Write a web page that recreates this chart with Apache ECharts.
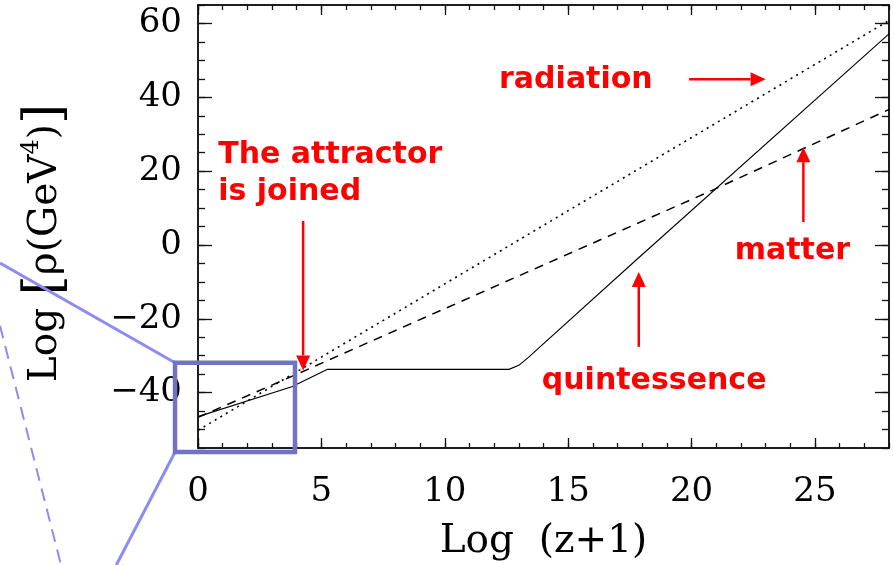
<!DOCTYPE html>
<html><head><meta charset="utf-8">
<script src="https://cdn.jsdelivr.net/npm/echarts@6/dist/echarts.min.js"></script>
<style>html,body{margin:0;padding:0;background:#fff}#c{width:894px;height:565px}</style>
</head><body><div id="c"></div>
<script>
// ---- data ----
const radiationX = [0, 11.5, 28];
const radiationY = [-50.2, -4.6, 60.8];
const matterX = [0, 3.8, 20.9, 28];
const matterY = [-46.7, -35.6, 15.0, 36.7];
const quintX = [0, 3.8, 5.25, 12.6, 13.0, 13.4, 17.8, 28];
const quintY = [-46.5, -38.4, -33.7, -33.7, -32.6, -30.4, -3.8, 57.2];

const xMajorTicks = [0, 5, 10, 15, 20, 25];
const xMinorTicks = [0,1,2,3,4,5,6,7,8,9,10,11,12,13,14,15,16,17,18,19,20,21,22,23,24,25,26,27,28];
const yMajorTicks = [-40, -20, 0, 20, 40, 60];
const yMinorTicks = [-55,-50,-45,-40,-35,-30,-25,-20,-15,-10,-5,0,5,10,15,20,25,30,35,40,45,50,55,60,65];

// annotations (data coordinates)
const labelTexts = ['radiation', 'The attractor', 'is joined', 'matter', 'quintessence'];
const labelX = [12.2, 0.82, 0.82, 21.75, 13.93];
const labelY = [44.5, 24.3, 14.3, -1.6, -37.0];
const arrowFromX = [19.9, 4.26, 24.53, 17.86];
const arrowFromY = [44.9, 6.5, 6.2, -27.6];
const arrowToX = [23.0, 4.26, 24.53, 17.86];
const arrowToY = [44.9, -34.0, 26.5, -7.3];
// zoom box (data coordinates of its corners)
const boxX = [-0.93, 3.93];
const boxY = [-31.9, -56.1];

const ink = '#111';
const serif = 'DejaVu Serif';
const chart = echarts.init(document.getElementById('c'), null, {renderer: 'canvas'});

function zip(a, b) { return a.map((v, i) => [v, b[i]]); }
function fmt(v) { return v < 0 ? '\u2212' + Math.abs(v) : String(v); }

function xAxis(pos, ticks, len, withLabel) {
  const a = {
    type: 'value', min: 0, max: 28, position: pos,
    axisLine: {show: true, onZero: false, lineStyle: {color: ink, width: 1.5}},
    axisTick: {show: true, inside: true, length: len, customValues: ticks, lineStyle: {color: ink, width: 1.3}},
    axisLabel: {show: withLabel, customValues: ticks, formatter: fmt, margin: 27,
      fontFamily: serif, fontSize: 34, color: '#000'},
    splitLine: {show: false}, minorTick: {show: false}
  };
  if (withLabel) {
    a.name = 'Log  (z+1)';
    a.nameLocation = 'middle';
    a.nameGap = 74;
    a.nameTextStyle = {fontFamily: serif, fontSize: 39, color: '#000'};
  }
  return a;
}
function yAxis(pos, ticks, len, withLabel) {
  return {
    type: 'value', min: -55, max: 65, position: pos,
    axisLine: {show: true, onZero: false, lineStyle: {color: ink, width: 1.5}},
    axisTick: {show: true, inside: true, length: len, customValues: ticks, lineStyle: {color: ink, width: 1.3}},
    axisLabel: {show: withLabel, customValues: ticks, formatter: fmt, margin: 16,
      fontFamily: serif, fontSize: 34, color: '#000'},
    splitLine: {show: false}, minorTick: {show: false}
  };
}

const option = {
  animation: false,
  backgroundColor: '#fff',
  grid: {left: 198, right: 5, top: 5, bottom: 117, containLabel: false, outerBoundsMode: 'none'},
  xAxis: [
    xAxis('bottom', xMajorTicks, 10, true),
    xAxis('bottom', xMinorTicks, 5, false),
    xAxis('top', xMajorTicks, 10, false),
    xAxis('top', xMinorTicks, 5, false)
  ],
  yAxis: [
    yAxis('left', yMajorTicks, 14, true),
    yAxis('left', yMinorTicks, 7, false),
    yAxis('right', yMajorTicks, 14, false),
    yAxis('right', yMinorTicks, 7, false)
  ],
  series: [
    {name: 'radiation', type: 'line', data: zip(radiationX, radiationY), symbol: 'none', silent: true,
      lineStyle: {color: '#000', width: 1.6, type: [2, 4.5]}},
    {name: 'matter', type: 'line', data: zip(matterX, matterY), symbol: 'none', silent: true,
      lineStyle: {color: '#000', width: 1.5, type: [9, 7]}},
    {name: 'quintessence', type: 'line', data: zip(quintX, quintY), symbol: 'none', silent: true,
      lineStyle: {color: '#000', width: 1.1}}
  ]
};
chart.setOption(option);

function px(x, y) { return chart.convertToPixel({gridIndex: 0}, [x, y]); }

const red = '#ff0000';
const g = [];
// y-axis title (rotated)
g.push({type: 'text', x: 46, y: 243, rotation: Math.PI / 2, z: 40,
  style: {
    text: '{t|Log }{b|[}{t|\u03c1(GeV}{s|4}{t|)}{b|]}',
    textAlign: 'center', textVerticalAlign: 'middle', fill: '#000',
    font: '39px "DejaVu Serif"',
    rich: {
      t: {fontFamily: serif, fontSize: 39, fill: '#000'},
      b: {fontFamily: serif, fontSize: 52, fill: '#000'},
      s: {fontFamily: serif, fontSize: 24, fill: '#000', verticalAlign: 'top', padding: [0, 0, 14, 0]}
    }
  }});
labelTexts.forEach((t, i) => {
  const p = px(labelX[i], labelY[i]);
  g.push({type: 'text', x: p[0], y: p[1], z: 50,
    style: {text: t, fill: red, font: 'bold 30px "DejaVu Sans"', textAlign: 'left', textVerticalAlign: 'middle'}});
});
arrowFromX.forEach((_, i) => {
  const a = px(arrowFromX[i], arrowFromY[i]);
  const b = px(arrowToX[i], arrowToY[i]);
  const dx = b[0] - a[0], dy = b[1] - a[1];
  const L = Math.hypot(dx, dy), ux = dx / L, uy = dy / L;
  const hl = 15, hw = 7;
  const bx = b[0] - ux * hl, by = b[1] - uy * hl;
  g.push({type: 'line', z: 50, shape: {x1: a[0], y1: a[1], x2: bx, y2: by},
    style: {stroke: red, lineWidth: 2.5}});
  g.push({type: 'polygon', z: 50, shape: {points: [[b[0], b[1]], [bx - uy * hw, by + ux * hw], [bx + uy * hw, by - ux * hw]]},
    style: {fill: red}});
});
// zoom box and its connector lines
const c1 = px(boxX[0], boxY[0]);
const c2 = px(boxX[1], boxY[1]);
g.push({type: 'rect', z: 60, shape: {x: c1[0], y: c1[1], width: c2[0] - c1[0], height: c2[1] - c1[1]},
  style: {fill: 'none', stroke: '#7272c2', lineWidth: 4.5}});
const H = chart.getHeight();
g.push({type: 'line', z: 59, shape: {x1: c1[0], y1: c1[1], x2: 0, y2: c1[1] - 0.57 * c1[0]},
  style: {stroke: '#8c8cf2', lineWidth: 3}});
g.push({type: 'line', z: 59, shape: {x1: c1[0], y1: c2[1], x2: c1[0] - 0.52 * (H - c2[1]), y2: H},
  style: {stroke: '#8c8cf2', lineWidth: 3}});
g.push({type: 'line', z: 59, shape: {x1: 0, y1: c1[1] - 37, x2: 0.255 * (H - c1[1] + 37), y2: H},
  style: {stroke: '#8c8cf2', lineWidth: 2, lineDash: [13, 8]}});
chart.setOption({graphic: g});
</script>
</body></html>
